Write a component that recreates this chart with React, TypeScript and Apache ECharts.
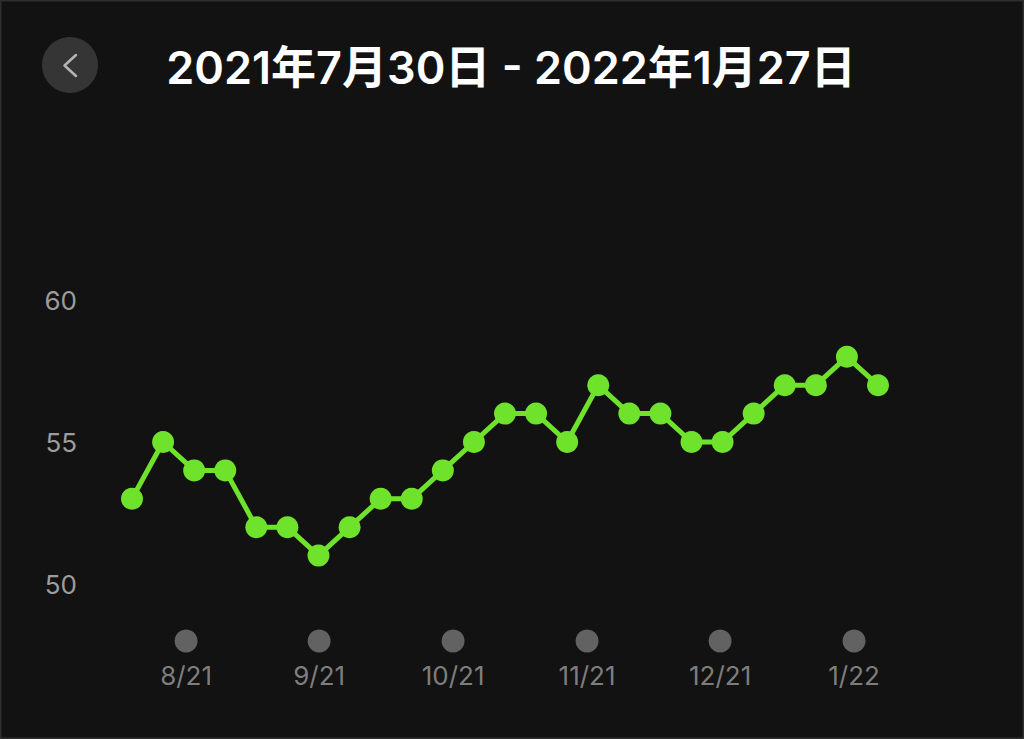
import React, { useEffect, useRef } from "react";
import * as echarts from "echarts";

const titleText = "2021年7月30日 - 2022年1月27日";
const weeklyValues = [53, 55, 54, 54, 52, 52, 51, 52, 53, 53, 54, 55, 56, 56, 55, 57, 56, 56, 55, 55, 56, 57, 57, 58, 57];
const monthLabels = ["8/21", "9/21", "10/21", "11/21", "12/21", "1/22"];
// month marker positions expressed in week-index units
const monthAt = [1.74, 6.02, 10.33, 14.64, 18.92, 23.23];
const yTicks = [50, 55, 60];

export default function App() {
  const ref = useRef<HTMLDivElement>(null);
  useEffect(() => {
    if (!ref.current) return;
    const chart = echarts.init(ref.current, undefined, { renderer: "svg" });
    const last = weeklyValues.length - 1;
    chart.setOption({
      animation: false,
      backgroundColor: "#121212",
      grid: [
        { left: 132, right: 146, top: 300, height: 284 },
        { left: 132, right: 146, top: 629, height: 24 },
      ],
      xAxis: [
        { type: "value", gridIndex: 0, min: 0, max: last, show: false },
        { type: "value", gridIndex: 1, min: 0, max: last, show: false },
      ],
      yAxis: [
        {
          type: "value",
          gridIndex: 0,
          min: yTicks[0],
          max: yTicks[yTicks.length - 1],
          interval: 5,
          axisLine: { show: false },
          axisTick: { show: false },
          splitLine: { show: false },
          axisLabel: {
            color: "#9c9c9c",
            fontSize: 26,
            fontFamily: "Inter, 'Noto Sans', sans-serif",
            margin: 55,
          },
        },
        { type: "value", gridIndex: 1, min: -1, max: 1, show: false },
      ],
      graphic: [
        {
          type: "rect",
          shape: { x: 0.5, y: 0.5, width: 1023, height: 738 },
          style: { fill: "none", stroke: "#2e2e2e", lineWidth: 2 },
          silent: true,
        },
        {
          type: "circle",
          shape: { cx: 70, cy: 65, r: 28 },
          style: { fill: "#353535" },
        },
        {
          type: "polyline",
          shape: { points: [[76, 55], [64.5, 65.5], [76, 76]] },
          style: { stroke: "#b5b5b5", lineWidth: 2.5, fill: "none", lineCap: "round", lineJoin: "round" },
        },
        {
          type: "text",
          x: 511,
          y: 67,
          style: {
            text: titleText,
            fill: "#ffffff",
            fontSize: 45,
            fontWeight: 600,
            fontFamily: "Inter, 'Noto Sans CJK JP', sans-serif",
            align: "center",
            verticalAlign: "middle",
          },
        },
      ],
      series: [
        {
          type: "line",
          xAxisIndex: 0,
          yAxisIndex: 0,
          data: weeklyValues.map((v, i) => [i, v]),
          symbol: "circle",
          symbolSize: 22,
          clip: false,
          lineStyle: { color: "#6fe32c", width: 5 },
          itemStyle: { color: "#6fe32c" },
        },
        {
          type: "scatter",
          xAxisIndex: 1,
          yAxisIndex: 1,
          data: monthAt.map((x, i) => ({ value: [x, 0], name: monthLabels[i] })),
          symbolSize: 23,
          itemStyle: { color: "#777777" },
          label: {
            show: true,
            position: "bottom",
            distance: 10,
            formatter: (p: any) => p.name,
            color: "#9c9c9c",
            fontSize: 26,
            fontFamily: "Inter, 'Noto Sans', sans-serif",
          },
        },
      ],
    });
    return () => chart.dispose();
  }, []);
  return (
    <div
      ref={ref}
      style={{ position: "fixed", left: 0, top: 0, width: 1024, height: 739 }}
    />
  );
}
